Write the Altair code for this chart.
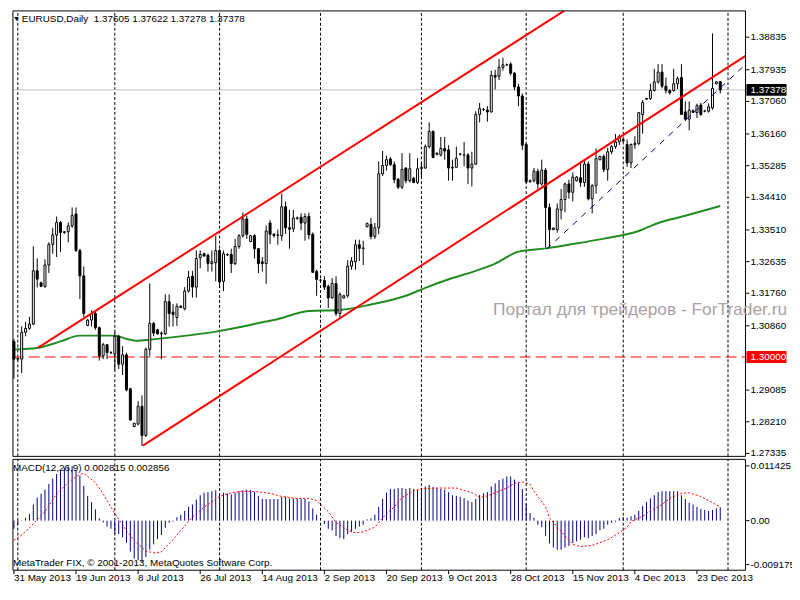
import altair as alt
import pandas as pd
import numpy as np

# ---------------- data ----------------
# daily bars (Sunday bars included), bar 0 = 31 May 2013
OPEN = [
1.3043,1.2994,1.2994,1.3068,1.3079,1.3091,1.3238,1.3205,1.3195,1.3254,
1.3311,1.3337,1.3372,1.3344,1.3346,1.3362,1.3395,1.3294,1.3224,1.3087,
1.3102,1.3120,1.3081,1.3003,1.3034,1.3012,1.3008,1.3057,1.2980,1.3006,
1.2912,1.2808,1.2815,1.2864,1.2783,1.3021,1.3093,1.3075,1.3064,1.3064,
1.3153,1.3124,1.3109,1.3140,1.3133,1.3182,1.3223,1.3193,1.3274,1.3285,
1.3281,1.3258,1.3261,1.3294,1.3209,1.3283,1.3283,1.3258,1.3305,1.3335,
1.3381,1.3319,1.3335,1.3299,1.3263,1.3258,1.3370,1.3339,1.3336,1.3335,
1.3415,1.3357,1.3354,1.3382,1.3386,1.3370,1.3388,1.3339,1.3236,1.3212,
1.3211,1.3195,1.3164,1.3203,1.3120,1.3163,1.3169,1.3251,1.3263,1.3310,
1.3300,1.3360,1.3366,1.3333,1.3357,1.3506,1.3529,1.3547,1.3531,1.3491,
1.3469,1.3522,1.3487,1.3494,1.3482,1.3520,1.3522,1.3581,1.3623,1.3560,
1.3558,1.3576,1.3572,1.3522,1.3524,1.3560,1.3558,1.3558,1.3522,1.3533,
1.3670,1.3684,1.3682,1.3677,1.3778,1.3776,1.3800,1.3807,1.3809,1.3784,
1.3746,1.3721,1.3587,1.3484,1.3487,1.3513,1.3478,1.3516,1.3413,1.3352,
1.3352,1.3406,1.3435,1.3478,1.3455,1.3487,1.3495,1.3482,1.3533,1.3437,
1.3473,1.3545,1.3554,1.3518,1.3567,1.3581,1.3594,1.3600,1.3587,1.3536,
1.3587,1.3590,1.3670,1.3712,1.3714,1.3736,1.3760,1.3787,1.3748,1.3736,
1.3736,1.3755,1.3772,1.3677,1.3657,1.3680,1.3675,1.3696,1.3679,1.3679,
1.3688,1.3755,1.37605]
HIGH = [
1.3050,1.2998,1.3085,1.3097,1.3111,1.3306,1.3272,1.3208,1.3270,1.3317,
1.3357,1.3388,1.3375,1.3348,1.3372,1.3413,1.3413,1.3299,1.3250,1.3105,
1.3129,1.3129,1.3084,1.3039,1.3036,1.3016,1.3070,1.3061,1.3030,1.3012,
1.2915,1.2818,1.2878,1.2894,1.3026,1.3203,1.3097,1.3078,1.3070,1.3173,
1.3173,1.3146,1.3148,1.3143,1.3193,1.3238,1.3238,1.3294,1.3294,1.3288,
1.3285,1.3294,1.3335,1.3299,1.3294,1.3286,1.3299,1.3326,1.3339,1.3399,
1.3390,1.3337,1.3339,1.3301,1.3276,1.3363,1.3378,1.3342,1.3352,1.3451,
1.3429,1.3406,1.3406,1.3388,1.3397,1.3397,1.3399,1.3344,1.3241,1.3216,
1.3223,1.3200,1.3218,1.3223,1.3178,1.3172,1.3267,1.3276,1.3324,1.3324,
1.3321,1.3371,1.3384,1.3370,1.3540,1.3569,1.3556,1.3552,1.3540,1.3495,
1.3563,1.3524,1.3563,1.3498,1.3549,1.3538,1.3587,1.3648,1.3626,1.3565,
1.3608,1.3608,1.3585,1.3545,1.3581,1.3563,1.3594,1.3563,1.3567,1.3679,
1.3702,1.3688,1.3693,1.3791,1.3793,1.3823,1.3827,1.3811,1.3814,1.3787,
1.3755,1.3728,1.3590,1.3490,1.3522,1.3520,1.3545,1.3522,1.3424,1.3358,
1.3424,1.3464,1.3482,1.3490,1.3510,1.3500,1.3540,1.3545,1.3540,1.3478,
1.3576,1.3556,1.3560,1.3578,1.3585,1.3616,1.3615,1.3603,1.3600,1.3590,
1.3610,1.3677,1.3710,1.3716,1.3755,1.3796,1.3809,1.3809,1.3772,1.3740,
1.3796,1.3775,1.3809,1.3706,1.3706,1.3684,1.3700,1.3702,1.3683,1.3700,
1.3894,1.3762,1.37622]
LOW = [
1.2940,1.2990,1.2955,1.3057,1.3075,1.3088,1.3192,1.3193,1.3191,1.3232,
1.3285,1.3276,1.3290,1.3340,1.3317,1.3357,1.3290,1.3160,1.3111,1.3085,
1.3084,1.3075,1.2990,1.2994,1.2994,1.3008,1.2963,1.2967,1.2950,1.2905,
1.2824,1.2806,1.2811,1.2754,1.2779,1.3003,1.3057,1.3062,1.2994,1.3061,
1.3084,1.3084,1.3086,1.3135,1.3129,1.3178,1.3164,1.3164,1.3245,1.3277,
1.3236,1.3236,1.3209,1.3191,1.3182,1.3279,1.3232,1.3254,1.3299,1.3330,
1.3326,1.3317,1.3272,1.3232,1.3236,1.3202,1.3312,1.3330,1.3310,1.3321,
1.3340,1.3299,1.3345,1.3380,1.3350,1.3321,1.3325,1.3232,1.3169,1.3208,
1.3185,1.3135,1.3160,1.3113,1.3105,1.3161,1.3164,1.3241,1.3241,1.3265,
1.3254,1.3358,1.3325,1.3326,1.3339,1.3500,1.3515,1.3528,1.3480,1.3464,
1.3464,1.3480,1.3482,1.3480,1.3478,1.3495,1.3520,1.3576,1.3549,1.3557,
1.3554,1.3545,1.3487,1.3487,1.3522,1.3557,1.3527,1.3478,1.3471,1.3531,
1.3648,1.3680,1.3650,1.3675,1.3739,1.3765,1.3791,1.3804,1.3778,1.3737,
1.3693,1.3572,1.3480,1.3482,1.3482,1.3465,1.3473,1.3303,1.3303,1.3350,
1.3343,1.3380,1.3400,1.3437,1.3430,1.3485,1.3470,1.3470,1.3433,1.3397,
1.3451,1.3543,1.3510,1.3487,1.3560,1.3575,1.3585,1.3594,1.3525,1.3522,
1.3575,1.3585,1.3617,1.3710,1.3710,1.3733,1.3755,1.3742,1.3728,1.3725,
1.3733,1.3740,1.3670,1.3652,1.3626,1.3674,1.3660,1.3666,1.3676,1.3675,
1.3683,1.3753,1.37278]
CLOSE = [
1.2994,1.2996,1.3068,1.3079,1.3091,1.3238,1.3215,1.3195,1.3254,1.3311,
1.3337,1.3372,1.3344,1.3346,1.3362,1.3391,1.3294,1.3224,1.3120,1.3102,
1.3120,1.3081,1.3003,1.3034,1.3012,1.3012,1.3057,1.2980,1.3006,1.2909,
1.2826,1.2817,1.2864,1.2783,1.3021,1.3093,1.3066,1.3064,1.3066,1.3153,
1.3120,1.3117,1.3140,1.3137,1.3182,1.3220,1.3193,1.3272,1.3283,1.3279,
1.3258,1.3263,1.3294,1.3207,1.3285,1.3282,1.3258,1.3305,1.3335,1.3381,
1.3339,1.3335,1.3299,1.3258,1.3258,1.3348,1.3339,1.3336,1.3337,1.3415,
1.3357,1.3353,1.3384,1.3384,1.3370,1.3388,1.3337,1.3234,1.3214,1.3212,
1.3193,1.3163,1.3203,1.3120,1.3173,1.3169,1.3251,1.3265,1.3310,1.3300,
1.3301,1.3369,1.3333,1.3357,1.3506,1.3529,1.3545,1.3531,1.3490,1.3469,
1.3518,1.3487,1.3520,1.3482,1.3520,1.3524,1.3581,1.3623,1.3551,1.3563,
1.3576,1.3569,1.3522,1.3524,1.3549,1.3561,1.3558,1.3522,1.3533,1.3670,
1.3686,1.3684,1.3677,1.3778,1.3773,1.3800,1.3807,1.3807,1.3784,1.3746,
1.3721,1.3585,1.3484,1.3487,1.3513,1.3478,1.3516,1.3413,1.3352,1.3356,
1.3409,1.3435,1.3478,1.3455,1.3497,1.3497,1.3482,1.3533,1.3437,1.3473,
1.3548,1.3554,1.3518,1.3567,1.3581,1.3594,1.3609,1.3597,1.3536,1.3587,
1.3590,1.3675,1.3703,1.3714,1.3736,1.3760,1.3787,1.3748,1.3736,1.3730,
1.3755,1.3769,1.3670,1.3657,1.3682,1.3676,1.3694,1.3670,1.3679,1.3691,
1.3742,1.3760,1.37378]

MACD = [
-0.00170,-0.00085,-0.00007,0.00059,0.00137,0.00334,0.00484,0.00562,0.00647,0.00765,
0.00876,0.00974,0.01053,0.01105,0.01131,0.01138,0.01053,0.00942,0.00726,0.00517,
0.00386,0.00235,0.00046,-0.00039,-0.00124,-0.00170,-0.00281,-0.00281,-0.00347,-0.00464,
-0.00647,-0.00791,-0.00824,-0.00870,-0.00759,-0.00608,-0.00497,-0.00386,-0.00301,-0.00150,
-0.00046,-0.00020,0.00072,0.00124,0.00203,0.00288,0.00334,0.00438,0.00530,0.00582,
0.00595,0.00615,0.00634,0.00549,0.00582,0.00569,0.00549,0.00582,0.00615,0.00634,
0.00647,0.00634,0.00595,0.00517,0.00451,0.00451,0.00451,0.00451,0.00451,0.00497,
0.00497,0.00464,0.00464,0.00464,0.00451,0.00451,0.00399,0.00255,0.00124,0.00000,
-0.00072,-0.00170,-0.00203,-0.00320,-0.00366,-0.00386,-0.00281,-0.00235,-0.00170,-0.00124,
-0.00085,0.00026,0.00046,0.00124,0.00288,0.00451,0.00582,0.00661,0.00661,0.00680,
0.00680,0.00661,0.00680,0.00661,0.00647,0.00680,0.00713,0.00746,0.00700,0.00680,
0.00661,0.00647,0.00595,0.00530,0.00517,0.00497,0.00471,0.00419,0.00386,0.00451,
0.00536,0.00569,0.00595,0.00713,0.00778,0.00844,0.00876,0.00922,0.00922,0.00857,
0.00791,0.00661,0.00353,0.00157,0.00059,-0.00085,-0.00137,-0.00320,-0.00477,-0.00562,
-0.00608,-0.00608,-0.00562,-0.00530,-0.00464,-0.00432,-0.00399,-0.00347,-0.00366,-0.00320,
-0.00281,-0.00203,-0.00170,-0.00085,-0.00046,-0.00020,0.00059,0.00072,0.00059,0.00092,
0.00124,0.00203,0.00307,0.00386,0.00464,0.00530,0.00595,0.00615,0.00615,0.00615,
0.00615,0.00615,0.00530,0.00451,0.00373,0.00334,0.00288,0.00242,0.00222,0.00203,
0.00222,0.00255,0.00281]

SIG_BAR = [0,2,4,8,11,14,17,18,21,23,26,28,29,31,33,34,36,38,41,43,46,49,53,56,59,63,66,69,73,76,
           78,81,83,86,88,90,93,95,98,100,103,105,109,114,118,120,122,124,127,129,131,133,134,137,138,
           140,142,144,146,149,153,156,158,159,162,164,167,169,172,174,177,179,182]
SIG_VAL = [-0.00412,-0.00301,-0.00150,0.00190,0.00556,0.00798,0.00968,0.00988,0.00791,0.00562,
           0.00150,-0.00085,-0.00216,-0.00412,-0.00562,-0.00634,-0.00674,-0.00654,-0.00399,-0.00203,
           0.00072,0.00281,0.00504,0.00582,0.00615,0.00602,0.00569,0.00504,0.00464,0.00464,
           0.00419,0.00190,-0.00039,-0.00203,-0.00255,-0.00235,-0.00137,0.00059,0.00288,0.00484,
           0.00615,0.00667,0.00680,0.00680,0.00582,0.00484,0.00517,0.00582,0.00680,0.00778,
           0.00811,0.00760,0.00615,0.00288,0.00059,-0.00137,-0.00320,-0.00497,-0.00543,-0.00517,
           -0.00399,-0.00255,-0.00137,-0.00020,0.00092,0.00203,0.00334,0.00464,0.00569,0.00582,
           0.00504,0.00419,0.00286]

MA_BAR = [0,6,12,17,26,29,32,37,46,52,59,64,67,76,84,92,101,106,113,119,124,130,137,144,152,161,166,173,182]
MA_VAL = [1.3021,1.3025,1.3043,1.3059,1.3059,1.3050,1.3045,1.3050,1.3061,1.3070,1.3084,1.3096,1.3102,
          1.3127,1.3130,1.3145,1.3169,1.3191,1.3218,1.3238,1.3258,1.3291,1.3300,1.3312,1.3327,1.3348,
          1.3370,1.3390,1.3417]

# drawn trend lines (anchor bar, anchor price)
CHAN_UP_BAR = [6.25, 141.75]
CHAN_UP_PRICE = [1.3026, 1.3956]
CHAN_LO_BAR = [33.25, 188.5]
CHAN_LO_PRICE = [1.2755, 1.3832]
BLUE_BAR = [137.25, 188.5]
BLUE_PRICE = [1.3298, 1.3808]

LEVEL_PRICE = 1.30000
LAST_PRICE = 1.37378

DATE_BARS = [0, 16, 32, 48, 64, 80, 96, 112, 128, 144, 160, 176]
DATE_LABELS = ["31 May 2013", "19 Jun 2013", "8 Jul 2013", "26 Jul 2013", "14 Aug 2013",
               "2 Sep 2013", "20 Sep 2013", "9 Oct 2013", "28 Oct 2013", "15 Nov 2013",
               "4 Dec 2013", "23 Dec 2013"]
MONTH_BARS = [1, 26, 53, 79, 105, 132, 157, 184]

PRICE_TICKS = [1.38835, 1.37935, 1.37060, 1.36160, 1.35285, 1.34410, 1.33510,
               1.32635, 1.31760, 1.30860, 1.29085, 1.28210, 1.27335]
PRICE_TICK_LABELS = ["1.38835", "1.37935", "1.37060", "1.36160", "1.35285", "1.34410", "1.33510",
                     "1.32635", "1.31760", "1.30860", "1.29085", "1.28210", "1.27335"]
MACD_TICKS = [0.011425, 0.0, -0.009175]
MACD_TICK_LABELS = ["0.011425", "0.00", "-0.009175"]

TITLE = "EURUSD,Daily\u00a0 1.37605 1.37622 1.37278 1.37378"
MACD_TITLE = "MACD(12,26,9) 0.002815 0.002856"
COPYRIGHT = "MetaTrader FIX, \u00a9 2001-2013, MetaQuotes Software Corp."
WATERMARK = "Портал для трейдеров - ForTrader.ru"

# ---------------- layout ----------------
X_MIN, X_MAX = -0.25, 188.5
P_MIN, P_MAX = 1.27254, 1.3956
M_MIN, M_MAX = -0.01035, 0.01279
W, H = 750, 578
MAIN_H = 450
MACD_TOP, MACD_BOT = 453, 565
FONT = "Liberation Sans"
FS = 10
XPX = W / (X_MAX - X_MIN)
MPX = (M_MAX - M_MIN) / (MACD_BOT - MACD_TOP)

xs = alt.Scale(domain=[X_MIN, X_MAX], nice=False, zero=False)
ps = alt.Scale(domain=[P_MIN, P_MAX], range=[MAIN_H, 0], nice=False, zero=False)
ms = alt.Scale(domain=[M_MIN, M_MAX], range=[MACD_BOT, MACD_TOP], nice=False, zero=False)


def X(f):
    return alt.X(f, type="quantitative", scale=xs, axis=None)


def PY(f):
    return alt.Y(f, type="quantitative", scale=ps, axis=None)


def MY(f):
    return alt.Y(f, type="quantitative", scale=ms, axis=None)


n = min(len(OPEN), len(HIGH), len(LOW), len(CLOSE))
cdf = pd.DataFrame({"bar": list(range(n)), "open": OPEN[:n], "high": HIGH[:n],
                    "low": LOW[:n], "close": CLOSE[:n]})
cdf["lo"] = cdf[["open", "close"]].min(axis=1)
cdf["hi"] = cdf[["open", "close"]].max(axis=1)
cdf["fill"] = np.where(cdf["close"] >= cdf["open"], "white", "black")

nm = len(MACD)
mdf = pd.DataFrame({"bar": list(range(nm)), "macd": MACD, "zero": [0.0] * nm})
sdf = pd.DataFrame({"bar": SIG_BAR[:len(SIG_VAL)], "sig": SIG_VAL[:len(SIG_BAR)]})
madf = pd.DataFrame({"bar": MA_BAR, "ma": MA_VAL})
tdf = pd.DataFrame({"id": ["a", "a", "b", "b"],
                    "bar": CHAN_UP_BAR + CHAN_LO_BAR,
                    "price": CHAN_UP_PRICE + CHAN_LO_PRICE})
bdf = pd.DataFrame({"bar": BLUE_BAR, "price": BLUE_PRICE})

layers = []

# month separators
layers.append(alt.Chart(pd.DataFrame({"bar": MONTH_BARS, "y1": P_MIN, "y2": P_MAX}))
              .mark_rule(color="black", strokeWidth=1, strokeDash=[3, 2])
              .encode(x=X("bar"), y=PY("y1"), y2=alt.Y2("y2")))
layers.append(alt.Chart(pd.DataFrame({"bar": MONTH_BARS, "y1": M_MIN, "y2": M_MAX}))
              .mark_rule(color="black", strokeWidth=1, strokeDash=[3, 2])
              .encode(x=X("bar"), y=MY("y1"), y2=alt.Y2("y2")))

# bid line and 1.30 level
layers.append(alt.Chart(pd.DataFrame({"x1": [X_MIN], "x2": [X_MAX], "price": [LAST_PRICE]}))
              .mark_rule(color="#c0c0c0", strokeWidth=1)
              .encode(x=X("x1"), x2=alt.X2("x2"), y=PY("price")))
layers.append(alt.Chart(pd.DataFrame({"x1": [X_MIN], "x2": [X_MAX], "price": [LEVEL_PRICE]}))
              .mark_rule(color="#ff0000", strokeWidth=1, strokeDash=[11, 5])
              .encode(x=X("x1"), x2=alt.X2("x2"), y=PY("price")))

# moving average
layers.append(alt.Chart(madf).mark_line(color="#228b22", strokeWidth=2, interpolate="monotone")
              .encode(x=X("bar"), y=PY("ma")))

# candles
layers.append(alt.Chart(cdf).mark_rule(color="black", strokeWidth=1)
              .encode(x=X("bar"), y=PY("low"), y2=alt.Y2("high")))
layers.append(alt.Chart(cdf).mark_bar(size=2, stroke="black", strokeWidth=1)
              .encode(x=X("bar"), y=PY("lo"), y2=alt.Y2("hi"),
                      fill=alt.Fill("fill:N", scale=None)))

# trend lines
layers.append(alt.Chart(tdf).mark_line(color="#ff0000", strokeWidth=2, clip=True)
              .encode(x=X("bar"), y=PY("price"), detail="id:N"))
layers.append(alt.Chart(bdf).mark_line(color="#000080", strokeWidth=1, strokeDash=[6, 6], clip=True)
              .encode(x=X("bar"), y=PY("price")))

# MACD
layers.append(alt.Chart(mdf).mark_rule(color="#000080", strokeWidth=1)
              .encode(x=X("bar"), y=MY("zero"), y2=alt.Y2("macd")))
layers.append(alt.Chart(sdf).mark_line(color="#ff0000", strokeWidth=1, strokeDash=[2, 2])
              .encode(x=X("bar"), y=MY("sig")))

# frames
layers.append(alt.Chart(pd.DataFrame({"x1": [X_MIN], "x2": [X_MAX], "y1": [P_MIN], "y2": [P_MAX]}))
              .mark_rect(fill="white", fillOpacity=0, stroke="black", strokeWidth=1)
              .encode(x=X("x1"), x2=alt.X2("x2"), y=PY("y1"), y2=alt.Y2("y2")))
layers.append(alt.Chart(pd.DataFrame({"x1": [X_MIN], "x2": [X_MAX], "y1": [M_MIN], "y2": [M_MAX]}))
              .mark_rect(fill="white", fillOpacity=0, stroke="black", strokeWidth=1)
              .encode(x=X("x1"), x2=alt.X2("x2"), y=MY("y1"), y2=alt.Y2("y2")))

# price axis
pt = pd.DataFrame({"price": PRICE_TICKS, "label": PRICE_TICK_LABELS,
                   "x1": X_MAX, "x2": X_MAX + 4 / XPX})
layers.append(alt.Chart(pt).mark_rule(color="black", strokeWidth=1)
              .encode(x=X("x1"), x2=alt.X2("x2"), y=PY("price")))
layers.append(alt.Chart(pt).mark_text(align="left", baseline="middle", dx=5, font=FONT, fontSize=FS, color="black")
              .encode(x=X("x1"), y=PY("price"), text="label:N"))

# price boxes
boxes = pd.DataFrame({"price": [LAST_PRICE, LEVEL_PRICE], "label": ["1.37378", "1.30000"],
                      "col": ["black", "#ff0000"], "b1": X_MAX + 1 / XPX, "b2": X_MAX + 42 / XPX,
                      "x1": X_MAX})
layers.append(alt.Chart(boxes).mark_rule(strokeWidth=12)
              .encode(x=X("b1"), x2=alt.X2("b2"), y=PY("price"), color=alt.Color("col:N", scale=None)))
layers.append(alt.Chart(boxes).mark_text(align="left", baseline="middle", dx=5, font=FONT, fontSize=FS, color="white")
              .encode(x=X("x1"), y=PY("price"), text="label:N"))

# MACD axis
mt = pd.DataFrame({"v": MACD_TICKS, "label": MACD_TICK_LABELS, "x1": X_MAX, "x2": X_MAX + 4 / XPX})
layers.append(alt.Chart(mt).mark_rule(color="black", strokeWidth=1)
              .encode(x=X("x1"), x2=alt.X2("x2"), y=MY("v")))
layers.append(alt.Chart(mt).mark_text(align="left", baseline="middle", dx=5, font=FONT, fontSize=FS, color="black")
              .encode(x=X("x1"), y=MY("v"), text="label:N"))

# time axis
dt = pd.DataFrame({"bar": DATE_BARS, "label": DATE_LABELS, "y1": M_MIN,
                   "y2": M_MIN - 4 * MPX, "ty": M_MIN - 8 * MPX})
layers.append(alt.Chart(dt).mark_rule(color="black", strokeWidth=1)
              .encode(x=X("bar"), y=MY("y1"), y2=alt.Y2("y2")))
layers.append(alt.Chart(dt).mark_text(align="left", baseline="middle", dx=0, font=FONT, fontSize=FS, color="black")
              .encode(x=X("bar"), y=MY("ty"), text="label:N"))

# texts
def note(txt, x, y, size=FS, color="black", align="left"):
    return (alt.Chart(pd.DataFrame({"t": [txt]}))
            .mark_text(align=align, baseline="middle", font=FONT, fontSize=size, color=color)
            .encode(x=alt.value(x), y=alt.value(y), text="t:N"))

layers.append(note("\u25bc", 5, 8.5, size=7))
layers.append(note(TITLE, 14, 8.5))
layers.append(note(MACD_TITLE, 5, 462))
layers.append(note(COPYRIGHT, 5, 558))
layers.append(note(WATERMARK, 787, 302.5, size=17.5, color="#aaa2a2", align="right"))

chart = (alt.layer(*layers)
         .resolve_scale(y="independent")
         .properties(width=W, height=H,
                     autosize=alt.AutoSizeParams(type="none"),
                     padding={"left": 0, "top": 0, "right": 42, "bottom": 0})
         .configure(background="white")
         .configure_view(strokeWidth=0))

chart.save("out.html", embed_options={"renderer": "svg", "actions": False})
